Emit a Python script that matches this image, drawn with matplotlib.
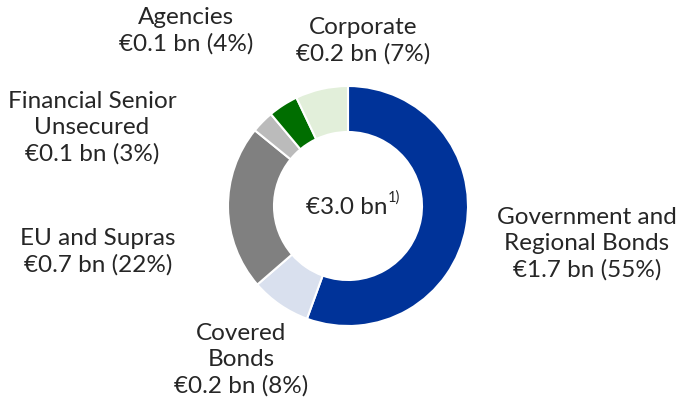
import matplotlib.pyplot as plt

plt.rcParams['font.family'] = ['Lato', 'DejaVu Sans']

segmenti = ["Government and\nRegional Bonds", "Covered\nBonds", "EU and Supras",
            "Financial Senior\nUnsecured", "Agencies", "Corporate"]
importi = [1.7, 0.2, 0.7, 0.1, 0.1, 0.2]
quote = [55, 8, 22, 3, 4, 7]
colori = ["#003399", "#D9E0EE", "#808080", "#BBBBBB", "#006E00", "#E2EFDA"]
totale = "€3.0 bn"

# posizioni delle etichette (pixel, origine in alto a sinistra)
pos_etichette = [(587, 244), (241, 360), (98, 252), (92, 128), (186, 31), (363, 41)]

fig = plt.figure(figsize=(6.8, 4.08), dpi=100)
ax = fig.add_axes([0, 0, 1, 1])

ax.pie(quote, colors=colori, startangle=90, counterclock=False,
       center=(348, 408 - 206), radius=120,
       wedgeprops=dict(width=46, edgecolor="white", linewidth=1.5))

# i limiti vanno fissati dopo pie(), che li sovrascrive
ax.set_xlim(0, 680)
ax.set_ylim(0, 408)
ax.set_aspect("equal")
ax.axis("off")

for nome, val, q, (x, y) in zip(segmenti, importi, quote, pos_etichette):
    testo = f"{nome}\n€{val} bn ({q}%)"
    ax.text(x, 408 - y, testo, ha="center", va="center", fontsize=17.5,
            color="#262626", linespacing=1.3)

ax.text(387, 408 - 207, totale, ha="right", va="center", fontsize=17.5,
        color="#262626")
ax.text(388, 408 - 198, "1)", ha="left", va="center", fontsize=10.5,
        color="#262626")

plt.savefig("out.png", dpi=100)
